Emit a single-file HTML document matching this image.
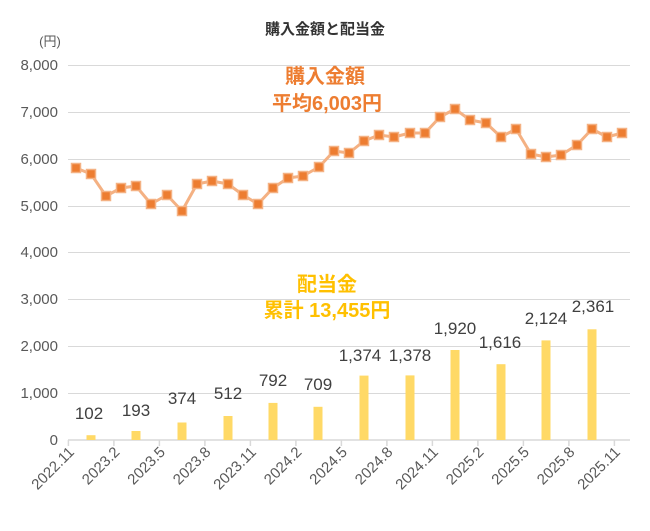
<!DOCTYPE html><html><head><meta charset="utf-8"><style>body{margin:0;background:#fff}svg{display:block;font-family:"Liberation Sans","Noto Sans CJK JP",sans-serif}</style></head><body>
<svg width="650" height="531" viewBox="0 0 650 531">
<text x="325" y="34" text-anchor="middle" font-size="15" font-weight="bold" fill="#333">購入金額と配当金</text>
<text x="50" y="46" text-anchor="middle" font-size="13" fill="#595959">(円)</text>
<g stroke="#d9d9d9" stroke-width="1">
<line x1="68" x2="630" y1="65.5" y2="65.5"/><line x1="68" x2="630" y1="112.5" y2="112.5"/><line x1="68" x2="630" y1="159.5" y2="159.5"/><line x1="68" x2="630" y1="206.5" y2="206.5"/><line x1="68" x2="630" y1="252.5" y2="252.5"/><line x1="68" x2="630" y1="299.5" y2="299.5"/><line x1="68" x2="630" y1="346.5" y2="346.5"/><line x1="68" x2="630" y1="393.5" y2="393.5"/>
<line x1="68" x2="630" y1="440" y2="440" stroke-width="1.5"/>
</g>
<g stroke="#d9d9d9" stroke-width="1.5">
<line x1="68.4" x2="68.4" y1="440" y2="446"/><line x1="113.9" x2="113.9" y1="440" y2="446"/><line x1="159.4" x2="159.4" y1="440" y2="446"/><line x1="204.9" x2="204.9" y1="440" y2="446"/><line x1="250.4" x2="250.4" y1="440" y2="446"/><line x1="295.9" x2="295.9" y1="440" y2="446"/><line x1="341.4" x2="341.4" y1="440" y2="446"/><line x1="386.9" x2="386.9" y1="440" y2="446"/><line x1="432.4" x2="432.4" y1="440" y2="446"/><line x1="477.9" x2="477.9" y1="440" y2="446"/><line x1="523.4" x2="523.4" y1="440" y2="446"/><line x1="568.9" x2="568.9" y1="440" y2="446"/><line x1="614.4" x2="614.4" y1="440" y2="446"/>
</g>
<g font-size="15" fill="#595959" text-anchor="end">
<text x="58" y="70">8,000</text><text x="58" y="117">7,000</text><text x="58" y="164">6,000</text><text x="58" y="211">5,000</text><text x="58" y="257">4,000</text><text x="58" y="304">3,000</text><text x="58" y="351">2,000</text><text x="58" y="398">1,000</text><text x="58" y="445">0</text>
</g>
<g font-size="15" fill="#595959" text-anchor="end">
<text transform="translate(75,453) rotate(-45)">2022.11</text>
<text transform="translate(120.5,453) rotate(-45)">2023.2</text>
<text transform="translate(166,453) rotate(-45)">2023.5</text>
<text transform="translate(211.5,453) rotate(-45)">2023.8</text>
<text transform="translate(257,453) rotate(-45)">2023.11</text>
<text transform="translate(302.5,453) rotate(-45)">2024.2</text>
<text transform="translate(348,453) rotate(-45)">2024.5</text>
<text transform="translate(393.5,453) rotate(-45)">2024.8</text>
<text transform="translate(439,453) rotate(-45)">2024.11</text>
<text transform="translate(484.5,453) rotate(-45)">2025.2</text>
<text transform="translate(530,453) rotate(-45)">2025.5</text>
<text transform="translate(575.5,453) rotate(-45)">2025.8</text>
<text transform="translate(621,453) rotate(-45)">2025.11</text>
</g>
<g fill="#FFD966">
<rect x="86.5" y="435.2" width="9" height="4.8"/><rect x="131.5" y="431" width="9" height="9"/><rect x="177.5" y="422.5" width="9" height="17.5"/><rect x="223.5" y="416" width="9" height="24"/><rect x="268.5" y="402.9" width="9" height="37.1"/><rect x="313.5" y="406.8" width="9" height="33.2"/><rect x="359.5" y="375.6" width="9" height="64.4"/><rect x="405.5" y="375.4" width="9" height="64.6"/><rect x="450.5" y="350" width="9" height="90"/><rect x="496.5" y="364.2" width="9" height="75.8"/><rect x="541.5" y="340.4" width="9" height="99.6"/><rect x="587.5" y="329.3" width="9" height="110.7"/>
</g>
<g font-size="17" fill="#404040" text-anchor="middle">
<text x="89" y="419">102</text><text x="136" y="416">193</text><text x="182" y="404">374</text><text x="228" y="399">512</text><text x="273" y="386">792</text><text x="318" y="390">709</text><text x="360" y="361">1,374</text><text x="410" y="361">1,378</text><text x="455" y="334">1,920</text><text x="500" y="348">1,616</text><text x="546" y="324">2,124</text><text x="593" y="312">2,361</text>
</g>
<polyline fill="none" stroke="#F4B183" stroke-width="3" stroke-linejoin="round" points="76,168 91,174 106,196 121,188 136,186 151,204 167,195 182,211 197,184 212,181 228,184 243,195 258,204 273,188 288,178 303,176 319,167 334,151 349,153 364,141 379,135 394,137 410,133 425,133 440,117 455,109 470,120 486,123 501,137 516,129 531,154 546,157 561,155 577,145 592,129 607,137 622,133"/>
<g fill="#ED7D31" stroke="#F4B183" stroke-width="1.5">
<rect x="71.5" y="163.5" width="9" height="9"/><rect x="86.5" y="169.5" width="9" height="9"/><rect x="101.5" y="191.5" width="9" height="9"/><rect x="116.5" y="183.5" width="9" height="9"/><rect x="131.5" y="181.5" width="9" height="9"/><rect x="146.5" y="199.5" width="9" height="9"/><rect x="162.5" y="190.5" width="9" height="9"/><rect x="177.5" y="206.5" width="9" height="9"/><rect x="192.5" y="179.5" width="9" height="9"/><rect x="207.5" y="176.5" width="9" height="9"/><rect x="223.5" y="179.5" width="9" height="9"/><rect x="238.5" y="190.5" width="9" height="9"/><rect x="253.5" y="199.5" width="9" height="9"/><rect x="268.5" y="183.5" width="9" height="9"/><rect x="283.5" y="173.5" width="9" height="9"/><rect x="298.5" y="171.5" width="9" height="9"/><rect x="314.5" y="162.5" width="9" height="9"/><rect x="329.5" y="146.5" width="9" height="9"/><rect x="344.5" y="148.5" width="9" height="9"/><rect x="359.5" y="136.5" width="9" height="9"/><rect x="374.5" y="130.5" width="9" height="9"/><rect x="389.5" y="132.5" width="9" height="9"/><rect x="405.5" y="128.5" width="9" height="9"/><rect x="420.5" y="128.5" width="9" height="9"/><rect x="435.5" y="112.5" width="9" height="9"/><rect x="450.5" y="104.5" width="9" height="9"/><rect x="465.5" y="115.5" width="9" height="9"/><rect x="481.5" y="118.5" width="9" height="9"/><rect x="496.5" y="132.5" width="9" height="9"/><rect x="511.5" y="124.5" width="9" height="9"/><rect x="526.5" y="149.5" width="9" height="9"/><rect x="541.5" y="152.5" width="9" height="9"/><rect x="556.5" y="150.5" width="9" height="9"/><rect x="572.5" y="140.5" width="9" height="9"/><rect x="587.5" y="124.5" width="9" height="9"/><rect x="602.5" y="132.5" width="9" height="9"/><rect x="617.5" y="128.5" width="9" height="9"/>
</g>
<g font-size="20" font-weight="bold" fill="#ED7D31" text-anchor="middle">
<text x="325" y="83">購入金額</text><text x="327" y="110">平均6,003円</text>
</g>
<g font-size="20" font-weight="bold" fill="#FFC000" text-anchor="middle">
<text x="327" y="291">配当金</text><text x="327" y="317">累計 13,455円</text>
</g>
</svg></body></html>
